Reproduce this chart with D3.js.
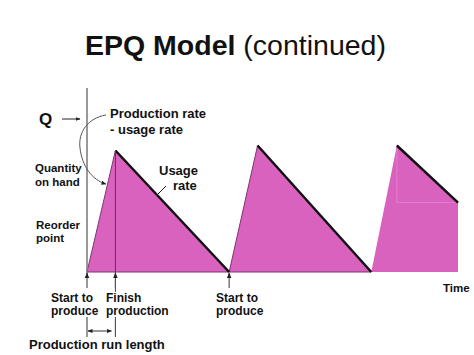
<!DOCTYPE html>
<html>
<head>
<meta charset="utf-8">
<script src="https://cdn.jsdelivr.net/npm/d3@7"></script>
<style>
  body { margin: 0; background: #fff; }
  text { font-family: "Liberation Sans", Arial, sans-serif; fill: #111; }
</style>
</head>
<body>
<script>
// cycle data (time units, quantity as share of Q)
var cycleStart = [0, 10, 20];
var cyclePeak = [2, 12, 21.8];
var cycleEnd = [10, 20, 26.1];
var peakQty = [0.98, 1.02, 1.02];
var endQty = [0, 0, 0.56];

var width = 474, height = 355;

var x = d3.scaleLinear().domain([0, 26.1]).range([87, 458]);
var y = d3.scaleLinear().domain([0, 1]).range([272, 148]);

var svg = d3.select("body").append("svg")
    .attr("width", width)
    .attr("height", height);

var defs = svg.append("defs");
defs.append("marker")
    .attr("id", "arr")
    .attr("viewBox", "0 0 10 10")
    .attr("refX", 9).attr("refY", 5)
    .attr("markerWidth", 5).attr("markerHeight", 5)
    .attr("orient", "auto-start-reverse")
  .append("path")
    .attr("d", "M0,1 L10,5 L0,9 Z")
    .attr("fill", "#222");

// title
var title = svg.append("text")
    .attr("x", 85).attr("y", 55)
    .style("font-size", "28.5px");
title.append("tspan").style("font-weight", "bold").text("EPQ Model");
title.append("tspan").text(" (continued)");

var cycles = cycleStart.map(function(s, i) {
  return {s: s, p: cyclePeak[i], e: cycleEnd[i], pk: peakQty[i], eq: endQty[i]};
});

// filled cycles
svg.selectAll(".cycle")
    .data(cycles)
    .enter()
    .append("path")
    .attr("class", "cycle")
    .attr("d", function(d) {
      return "M" + x(d.s) + "," + y(0) +
        "L" + x(d.p) + "," + y(d.pk) +
        "L" + x(d.e) + "," + y(d.eq) +
        "L" + x(d.e) + "," + y(0) + "Z";
    })
    .attr("fill", "#d962bf");

// faint inner lines on the last cycle
var last = cycles[2];
svg.append("path")
    .attr("d", "M" + x(last.p) + "," + y(last.pk) + "L" + x(last.p) + "," + y(last.eq) +
      "L" + x(last.e) + "," + y(last.eq))
    .attr("fill", "none")
    .attr("stroke", "#e47ccf")
    .attr("stroke-width", 1);

// production edges
svg.selectAll(".up")
    .data(cycles.slice(0, 2))
    .enter()
    .append("line")
    .attr("x1", function(d) { return x(d.s); })
    .attr("y1", y(0))
    .attr("x2", function(d) { return x(d.p); })
    .attr("y2", function(d) { return y(d.pk); })
    .attr("stroke", "#7d3571")
    .attr("stroke-width", 1);

// baseline
svg.append("line")
    .attr("x1", x(0)).attr("x2", x(20))
    .attr("y1", y(0)).attr("y2", y(0))
    .attr("stroke", "#7d3571")
    .attr("stroke-width", 1.2);

// usage rate lines
svg.selectAll(".down")
    .data(cycles)
    .enter()
    .append("line")
    .attr("x1", function(d) { return x(d.p); })
    .attr("y1", function(d) { return y(d.pk); })
    .attr("x2", function(d) { return x(d.e); })
    .attr("y2", function(d) { return y(d.eq); })
    .attr("stroke", "#111")
    .attr("stroke-width", 2.5);

// vertical axis
svg.append("line")
    .attr("x1", x(0)).attr("x2", x(0))
    .attr("y1", 88).attr("y2", 278)
    .attr("stroke", "#777")
    .attr("stroke-width", 1.5);

// finish production line
svg.append("line")
    .attr("x1", x(2)).attr("x2", x(2))
    .attr("y1", y(peakQty[0])).attr("y2", 292)
    .attr("stroke", "#6a2c60")
    .attr("stroke-width", 1);

// pointer arrows under the time line
[0, 2, 10].forEach(function(t) {
  svg.append("line")
      .attr("x1", x(t)).attr("x2", x(t))
      .attr("y1", 288).attr("y2", y(0) + 1)
      .attr("stroke", "#555")
      .attr("stroke-width", 1.2)
      .attr("marker-end", "url(#arr)");
});

// production run length bracket
[0, 2].forEach(function(t) {
  svg.append("line")
      .attr("x1", x(t)).attr("x2", x(t))
      .attr("y1", 317).attr("y2", 337)
      .attr("stroke", "#555")
      .attr("stroke-width", 1.2);
});
svg.append("line")
    .attr("x1", x(0) + 1).attr("x2", x(2) - 4)
    .attr("y1", 331).attr("y2", 331)
    .attr("stroke", "#333")
    .attr("stroke-width", 1)
    .attr("marker-start", "url(#arr)")
    .attr("marker-end", "url(#arr)");

// Q arrow
svg.append("line")
    .attr("x1", 62).attr("x2", 80)
    .attr("y1", 119).attr("y2", 119)
    .attr("stroke", "#222")
    .attr("stroke-width", 1)
    .attr("marker-end", "url(#arr)");

// curved pointer
svg.append("path")
    .attr("d", "M106,115 C88,118 78,132 80,148 C82,166 92,180 106,184")
    .attr("fill", "none")
    .attr("stroke", "#555")
    .attr("stroke-width", 1)
    .attr("marker-end", "url(#arr)");

// usage rate pointer
svg.append("line")
    .attr("x1", 166).attr("y1", 186)
    .attr("x2", 156).attr("y2", 196)
    .attr("stroke", "#222")
    .attr("stroke-width", 1);

var labels = [
  {t: "Q", x: 39, y: 125, s: 17},
  {t: "Production rate", x: 110, y: 118, s: 13},
  {t: "- usage rate", x: 110, y: 134, s: 13},
  {t: "Quantity", x: 35, y: 172, s: 11.5},
  {t: "on hand", x: 35, y: 186, s: 11.5},
  {t: "Usage", x: 159, y: 175, s: 13},
  {t: "rate", x: 173, y: 190, s: 13},
  {t: "Reorder", x: 36, y: 229, s: 11.5},
  {t: "point", x: 36, y: 242, s: 11.5},
  {t: "Time", x: 443, y: 292, s: 11.5},
  {t: "Start to", x: 51, y: 302, s: 12},
  {t: "produce", x: 51, y: 315, s: 12},
  {t: "Finish", x: 106, y: 302, s: 12},
  {t: "production", x: 106, y: 315, s: 12},
  {t: "Start to", x: 216, y: 302, s: 12},
  {t: "produce", x: 216, y: 315, s: 12},
  {t: "Production run length", x: 29, y: 349, s: 13}
];

svg.selectAll(".lbl")
    .data(labels)
    .enter()
    .append("text")
    .attr("class", "lbl")
    .attr("x", function(d) { return d.x; })
    .attr("y", function(d) { return d.y; })
    .style("font-size", function(d) { return d.s + "px"; })
    .style("font-weight", "bold")
    .text(function(d) { return d.t; });
</script>
</body>
</html>
